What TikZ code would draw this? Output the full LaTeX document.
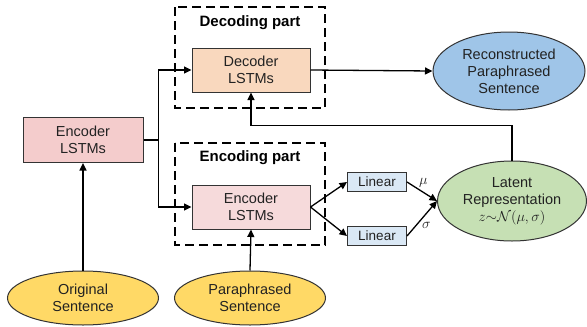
\documentclass[tikz,border=0pt]{standalone}
\usepackage{fontspec}
\setmainfont{Liberation Sans}
\usepackage{amsmath}
\usetikzlibrary{arrows.meta, positioning, shapes.geometric}
\definecolor{encpink}{HTML}{F4CCCC}
\definecolor{encpinklt}{HTML}{F6DADB}
\definecolor{decpeach}{HTML}{F9D8BE}
\definecolor{linblue}{HTML}{DAE8F5}
\definecolor{recblue}{HTML}{9FC5E8}
\definecolor{latgreen}{HTML}{C6E0B4}
\definecolor{sentyellow}{HTML}{FFD966}
\definecolor{edgegray}{HTML}{333333}
\definecolor{textgray}{HTML}{222222}

\begin{document}
\begin{tikzpicture}[
  x=1pt, y=-1pt,
  every node/.style={font=\fontsize{14.5}{17}\selectfont, text=textgray},
  box/.style={rectangle, draw=edgegray, fill=#1, minimum width=118pt, minimum height=44pt, align=center, line width=1pt},
  linbox/.style={rectangle, draw=edgegray, fill=linblue, minimum width=59pt, minimum height=19pt, inner sep=0pt, line width=1pt, font=\fontsize{13.5}{15}\selectfont},
  oval/.style={ellipse, draw=edgegray, fill=#1, align=center, inner sep=0pt, line width=1pt},
  part/.style={draw, line width=1.8pt, dash pattern=on 9pt off 5pt},
  title/.style={font=\bfseries\fontsize{15}{17}\selectfont, text=black},
  arrow/.style={-{Triangle[length=7.5pt,width=7pt]}, line width=1.3pt},
]
\useasboundingbox (0,0) rectangle (587,327);

% dashed parts
\draw[part] (175,7) rectangle (325,108);
\node[title] (dectitle) at (250,23) {Decoding part};
\draw[part] (175,143) rectangle (325,245);
\node[title] (enctitle) at (250,158) {Encoding part};

\node[box=encpink, minimum width=120pt, minimum height=45pt] (encleft) at (83,140) {Encoder\\LSTMs};
\node[box=decpeach] (decoder) at (251,70) {Decoder\\LSTMs};
\node[box=encpinklt] (encoder) at (251,207) {Encoder\\LSTMs};
\node[linbox] (linmu) at (377,182) {Linear};
\node[linbox] (linsig) at (377,236) {Linear};
\node[oval=recblue, minimum width=152pt, minimum height=78pt] (recon) at (509,71) {Reconstructed\\Paraphrased\\Sentence};
\node[oval=latgreen, minimum width=149pt, minimum height=80pt] (latent) at (512,201) {Latent\\Representation\\$z{\sim}\mathcal{N}(\mu,\sigma)$};
\node[oval=sentyellow, minimum width=151pt, minimum height=54pt] (orig) at (83,298) {Original\\Sentence};
\node[oval=sentyellow, minimum width=151pt, minimum height=54pt] (para) at (250,298) {Paraphrased\\Sentence};

\draw[arrow] (encleft.east) -- ++(15,0) coordinate (split) |- (decoder.west);
\draw[arrow] (split) |- (encoder.west);
\draw[arrow] (decoder.east) -- (recon.west);
\draw[arrow] (latent.north) -- ++(0,-35) -| (decoder.south);
\draw[arrow] (orig.north) -- (encleft.south);
\draw[arrow] (para.north) -- (encoder.south);
\draw[arrow] (encoder.east) -- (linmu.west);
\draw[arrow] (encoder.east) -- (linsig.west);
\draw[arrow] (linmu.east) -- node[above right, pos=0.35, inner sep=1pt] {$\mu$} (latent.west);
\draw[arrow] (linsig.east) -- node[below right, pos=0.45, inner sep=1pt] {$\sigma$} (latent.west);

\end{tikzpicture}
\end{document}
